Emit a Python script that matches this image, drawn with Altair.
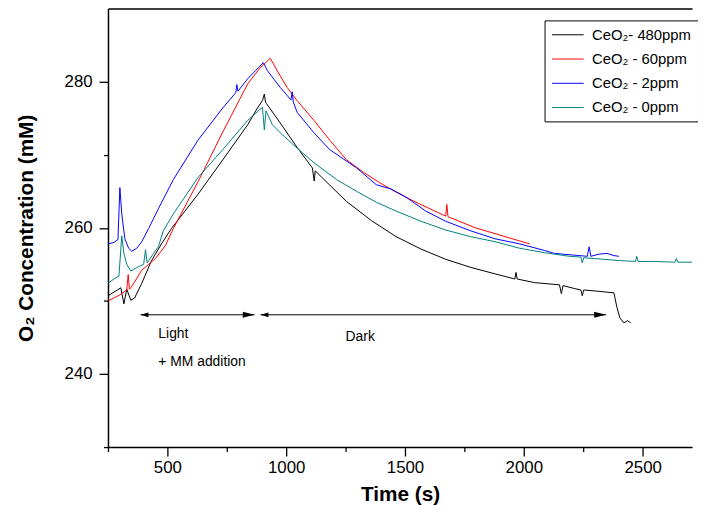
import altair as alt
import pandas as pd

FONT = "Liberation Sans"

SERIES = ["CeO₂- 480ppm", "CeO₂ - 60ppm", "CeO₂ - 2ppm", "CeO₂ - 0ppm"]
COLORS = ["#000000", "#ff0000", "#0000ff", "#008080"]

time_480 = [250, 275, 304, 317, 329, 346, 362, 392, 433, 475, 517, 629, 733, 838, 879, 900, 908, 913,
            917, 963, 1046, 1110, 1118, 1122, 1150, 1254, 1358, 1462, 1567, 1671, 1775, 1879, 1962,
            1967, 1972, 2046, 2150, 2158, 2165, 2212, 2240, 2246, 2252, 2320, 2379, 2392, 2404, 2421,
            2437, 2450]
conc_480 = [250.7, 251.2, 251.8, 249.6, 251.6, 250.1, 250.4, 252.4, 255.5, 257.8, 259.9, 264.6, 269.3,
            274.1, 276.4, 277.4, 278.3, 277.2, 277.0, 274.9, 271.0, 268.2, 266.4, 267.8, 266.9, 263.6,
            261.0, 258.8, 257.1, 255.7, 254.6, 253.7, 253.0, 253.9, 253.0, 252.5, 252.2, 251.0, 252.1,
            251.7, 251.5, 250.7, 251.5, 251.3, 251.1, 249.1, 247.7, 247.0, 247.3, 247.0]

time_60 = [250, 275, 304, 329, 335, 340, 346, 362, 392, 421, 450, 492, 525, 629, 733, 838, 888, 933,
           962, 1004, 1046, 1117, 1183, 1254, 1325, 1392, 1462, 1546, 1671, 1676, 1681, 1690, 1796,
           1921, 2025]
conc_60 = [250.0, 250.4, 250.9, 251.5, 253.6, 251.6, 251.8, 252.6, 254.2, 255.0, 255.8, 257.6, 259.9,
           266.3, 273.1, 279.7, 281.8, 283.2, 281.5, 279.2, 277.4, 274.7, 272.0, 269.3, 267.6, 266.2,
           264.9, 263.5, 261.6, 263.2, 261.5, 261.4, 260.0, 258.8, 257.8]

time_2 = [250, 275, 292, 300, 308, 321, 337, 350, 371, 392, 421, 462, 525, 629, 733, 788, 792, 797,
          838, 871, 904, 921, 975, 1020, 1025, 1030, 1046, 1117, 1183, 1296, 1379, 1442, 1504, 1587,
          1671, 1775, 1879, 1983, 2087, 2129, 2200, 2267, 2275, 2282, 2317, 2350, 2379, 2400]
conc_2 = [257.8, 258.0, 258.4, 265.5, 261.9, 258.5, 257.2, 256.8, 257.2, 258.1, 259.9, 262.6, 266.6,
          272.0, 276.4, 278.5, 279.6, 278.7, 280.4, 281.5, 282.6, 281.5, 279.2, 277.5, 278.6, 277.2,
          275.8, 273.0, 270.7, 268.2, 265.9, 265.3, 264.2, 262.3, 260.9, 259.6, 258.5, 257.8, 256.9,
          256.5, 256.3, 256.1, 257.4, 256.1, 256.4, 256.5, 256.2, 256.1]

time_0 = [250, 275, 296, 308, 317, 329, 346, 379, 400, 408, 415, 442, 462, 483, 525, 629, 733, 838,
          900, 908, 915, 942, 975, 1046, 1117, 1212, 1296, 1379, 1462, 1567, 1671, 1775, 1879, 1983,
          2087, 2192, 2240, 2246, 2252, 2296, 2408, 2470, 2475, 2481, 2546, 2636, 2642, 2648, 2738]
conc_0 = [252.4, 253.0, 253.4, 258.9, 256.5, 255.0, 254.1, 254.7, 255.0, 257.0, 255.2, 256.5, 257.4,
          259.6, 261.9, 266.9, 270.7, 274.7, 276.5, 273.4, 276.0, 274.1, 273.0, 270.9, 268.9, 266.6,
          265.0, 263.5, 262.3, 260.9, 259.7, 258.8, 258.1, 257.2, 256.6, 256.1, 256.0, 255.2, 255.9,
          255.8, 255.5, 255.4, 256.1, 255.4, 255.4, 255.3, 255.8, 255.3, 255.3]

X_TICKS = [500, 1000, 1500, 2000, 2500]
X_MINOR = [250, 750, 1250, 1750, 2250]
Y_TICKS = [240, 260, 280]
Y_MINOR = [230, 250, 270]
X_DOMAIN = [250, 2708]
Y_DOMAIN = [230, 290]

arrow_start = [387, 892]
arrow_end = [867, 2346]
arrow_level = [248.1, 248.1]

note_text = ["Light", "+ MM addition", "Dark"]
note_time = [462, 462, 1250]
note_conc = [245.4, 241.7, 245.0]

rows = []
for name, ts, cs in zip(SERIES, [time_480, time_60, time_2, time_0], [conc_480, conc_60, conc_2, conc_0]):
    for i, (t, c) in enumerate(zip(ts, cs)):
        rows.append({"series": name, "time": t, "conc": c, "idx": i})
df = pd.DataFrame(rows)

arrows = pd.DataFrame({"start": arrow_start, "end": arrow_end, "level": arrow_level})
notes = pd.DataFrame({"text": note_text, "time": note_time, "conc": note_conc})

xs = alt.Scale(domain=X_DOMAIN, nice=False, zero=False)
ys = alt.Scale(domain=Y_DOMAIN, nice=False, zero=False)

major_x = alt.Axis(values=X_TICKS, format="d", title="Time (s)", orient="bottom", tickSize=9,
                   tickWidth=1.3, tickColor="black", domainColor="black", domainWidth=1.5,
                   labelFont=FONT, labelFontSize=17, labelColor="black", labelPadding=4,
                   titleFont=FONT, titleFontSize=21, titleFontWeight="bold", titleColor="black",
                   titlePadding=8, grid=False, labelFlush=False)
major_y = alt.Axis(values=Y_TICKS, format="d", title="O₂ Concentration (mM)", orient="left", tickSize=9,
                   tickWidth=1.3, tickColor="black", domainColor="black", domainWidth=1.5,
                   labelFont=FONT, labelFontSize=17, labelColor="black", labelPadding=7,
                   titleFont=FONT, titleFontSize=21, titleFontWeight="bold", titleColor="black",
                   titlePadding=28, grid=False)
minor_x = alt.Axis(values=X_MINOR, orient="bottom", tickSize=4.5, tickWidth=1.3, tickColor="black",
                   domain=False, labels=False, title=None, grid=False)
minor_y = alt.Axis(values=Y_MINOR, orient="left", tickSize=4.5, tickWidth=1.3, tickColor="black",
                   domain=False, labels=False, title=None, grid=False)
top_x = alt.Axis(orient="top", ticks=False, labels=False, title=None, domainColor="black",
                 domainWidth=1.5, grid=False)

lines = alt.Chart(df).mark_line(strokeWidth=1, clip=True).encode(
    x=alt.X("time:Q", scale=xs, axis=major_x),
    y=alt.Y("conc:Q", scale=ys, axis=major_y),
    color=alt.Color("series:N", scale=alt.Scale(domain=SERIES, range=COLORS), sort=SERIES,
                    legend=alt.Legend(orient="none", legendX=441, legendY=12, title=None,
                                      strokeColor="black", fillColor="white", padding=6,
                                      labelFont=FONT, labelFontSize=15, labelColor="black",
                                      symbolType="M-2,0H2", symbolSize=256, symbolStrokeWidth=1,
                                      symbolOffset=9, rowPadding=7.5, labelOffset=16)),
    order="idx:Q",
)

minor = alt.Chart(df).mark_line(opacity=0).encode(
    x=alt.X("time:Q", scale=xs, axis=minor_x),
    y=alt.Y("conc:Q", scale=ys, axis=minor_y),
    detail="series:N",
)

frame = alt.Chart(df).mark_line(opacity=0).encode(
    x=alt.X("time:Q", scale=xs, axis=top_x),
    y=alt.Y("conc:Q", scale=ys, axis=None),
    detail="series:N",
)

rules = alt.Chart(arrows).mark_rule(color="black", strokeWidth=1).encode(
    x=alt.X("start:Q", scale=xs, axis=None),
    x2="end:Q",
    y=alt.Y("level:Q", scale=ys, axis=None),
)

heads_right = alt.Chart(arrows).mark_point(
    shape="M0,0L-2,-0.5L-2,0.5Z", filled=True, color="black", size=144, opacity=1
).encode(
    x=alt.X("end:Q", scale=xs, axis=None),
    y=alt.Y("level:Q", scale=ys, axis=None),
)

heads_left = alt.Chart(arrows).mark_point(
    shape="M0,0L2,-0.6L2,0.6Z", filled=True, color="black", size=64, opacity=1
).encode(
    x=alt.X("start:Q", scale=xs, axis=None),
    y=alt.Y("level:Q", scale=ys, axis=None),
)

texts = alt.Chart(notes).mark_text(align="left", baseline="middle", font=FONT, fontSize=14,
                                    color="black").encode(
    x=alt.X("time:Q", scale=xs, axis=None),
    y=alt.Y("conc:Q", scale=ys, axis=None),
    text="text:N",
)

chart = alt.layer(minor, frame, lines, rules, heads_right, heads_left, texts).resolve_axis(
    x="independent", y="independent"
).properties(
    width=590, height=443,
    autosize=alt.AutoSizeParams(type="none"),
    padding={"left": 101, "top": -2, "right": 6, "bottom": 62},
).configure_view(stroke=None)

chart.save("out.html", embed_options={"renderer": "svg", "actions": False})
